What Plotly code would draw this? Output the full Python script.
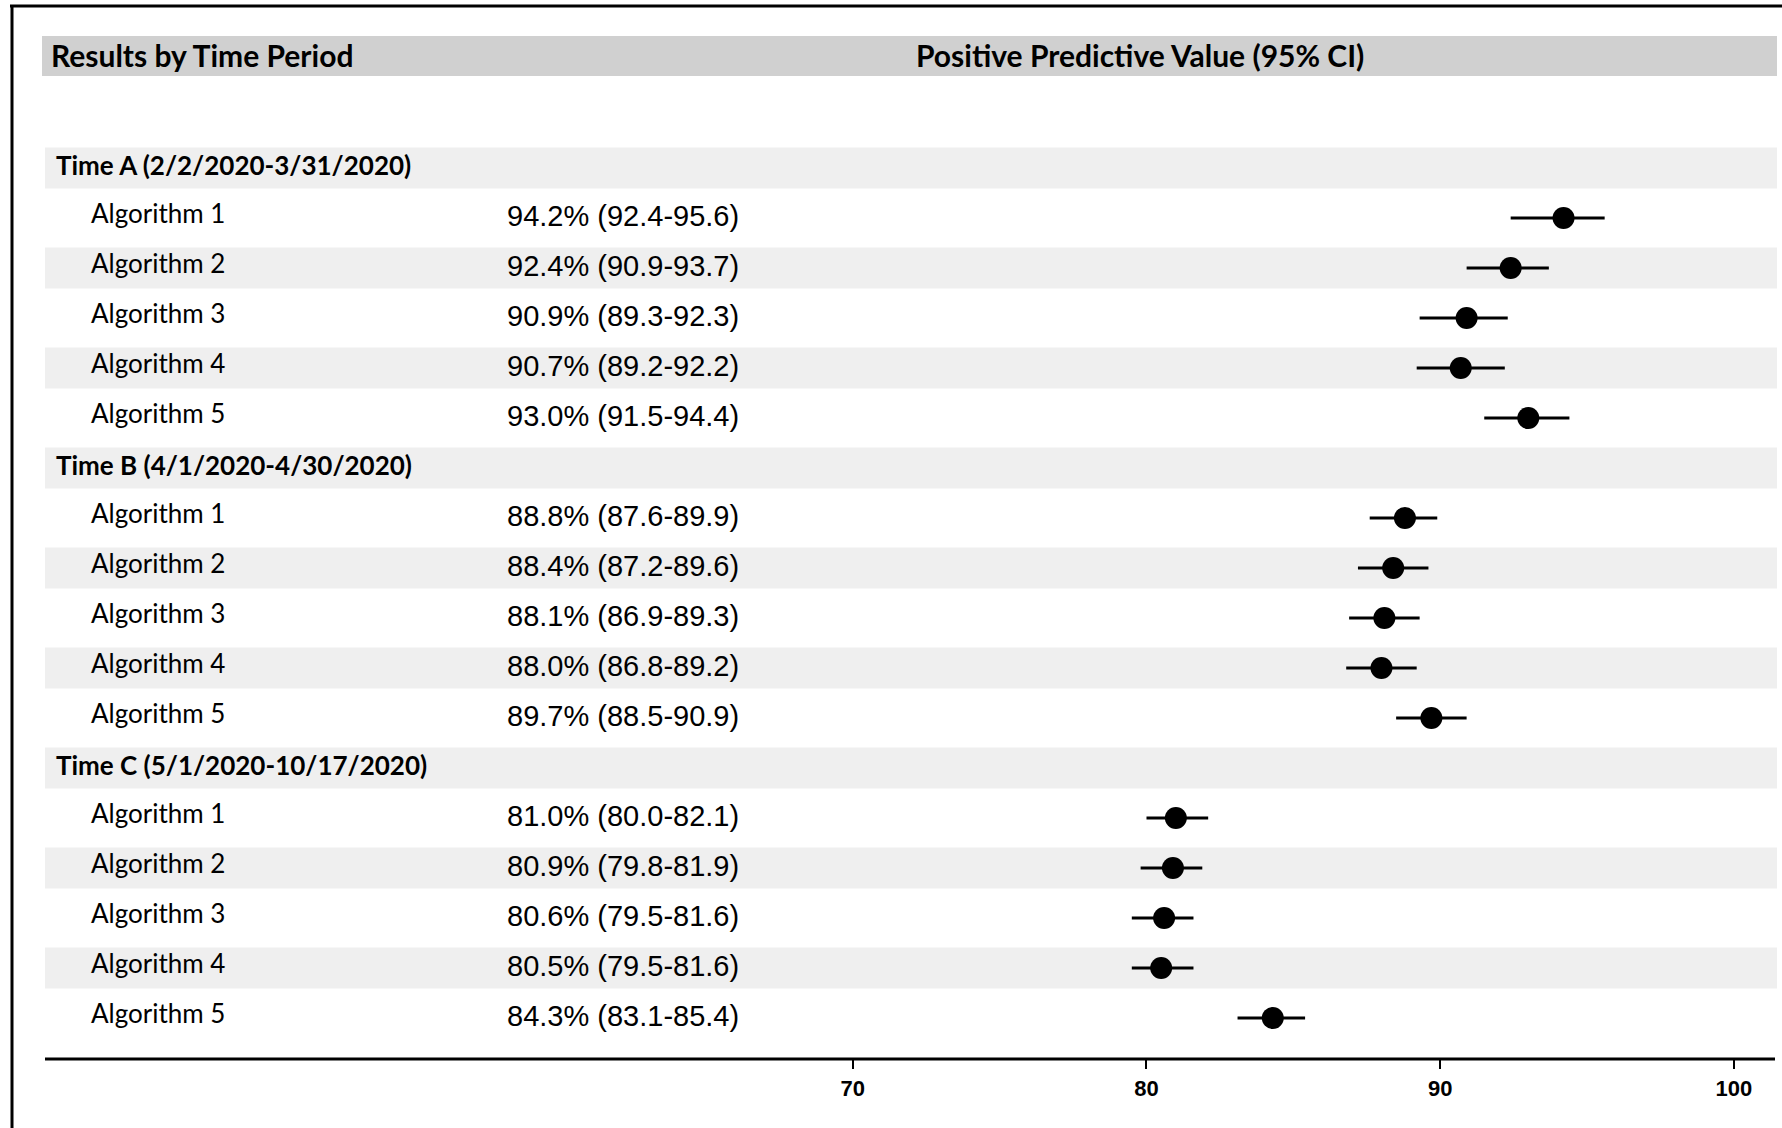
import plotly.graph_objects as go

# ---------------- data ----------------
periods = ["Time A (2/2/2020-3/31/2020)",
           "Time B (4/1/2020-4/30/2020)",
           "Time C (5/1/2020-10/17/2020)"]
algorithms = ["Algorithm 1", "Algorithm 2", "Algorithm 3", "Algorithm 4", "Algorithm 5"]

ppv_a = [94.2, 92.4, 90.9, 90.7, 93.0]
lo_a = [92.4, 90.9, 89.3, 89.2, 91.5]
hi_a = [95.6, 93.7, 92.3, 92.2, 94.4]

ppv_b = [88.8, 88.4, 88.1, 88.0, 89.7]
lo_b = [87.6, 87.2, 86.9, 86.8, 88.5]
hi_b = [89.9, 89.6, 89.3, 89.2, 90.9]

ppv_c = [81.0, 80.9, 80.6, 80.5, 84.3]
lo_c = [80.0, 79.8, 79.5, 79.5, 83.1]
hi_c = [82.1, 81.9, 81.6, 81.6, 85.4]

tick_vals = [70, 80, 90, 100]
header_left = "Results by Time Period"
header_right = "Positive Predictive Value (95% CI)"

# ---------------- layout constants ----------------
W, H = 1782, 1128
ROW0 = 168.0     # pixel centre of first row
PITCH = 50.0     # pixel pitch between rows
BAND_H = 0.41    # half band height in rows
X_LO, X_HI = 66.5, 101.4
CAL = "Lato, 'Open Sans', sans-serif"
ARI = "'Liberation Sans', Arial, sans-serif"


def px(x):
    return x / W


def py(y):
    return 1 - y / H


groups = [(periods[0], ppv_a, lo_a, hi_a),
          (periods[1], ppv_b, lo_b, hi_b),
          (periods[2], ppv_c, lo_c, hi_c)]

fig = go.Figure()
shapes = []
annotations = []

pts_y, pts_x, err_p, err_m = [], [], [], []
row = 0
for name, vals, lows, highs in groups:
    # group header row
    shapes.append(dict(type="rect", xref="paper", yref="y", x0=px(45), x1=px(1777),
                       y0=row - BAND_H, y1=row + BAND_H, fillcolor="#efefef",
                       line=dict(width=0), layer="below"))
    annotations.append(dict(text=name, xref="paper", yref="y", x=px(54), y=row,
                            xanchor="left", yanchor="middle", showarrow=False, yshift=3,
                            font=dict(family=CAL, size=26, color="black", weight="bold")))
    row += 1
    for i, (alg, v, lo, hi) in enumerate(zip(algorithms, vals, lows, highs)):
        if i % 2 == 1:
            shapes.append(dict(type="rect", xref="paper", yref="y", x0=px(45), x1=px(1777),
                               y0=row - BAND_H, y1=row + BAND_H, fillcolor="#efefef",
                               line=dict(width=0), layer="below"))
        annotations.append(dict(text=alg, xref="paper", yref="y", x=px(89), y=row,
                                xanchor="left", yanchor="middle", showarrow=False, yshift=5,
                                font=dict(family=CAL, size=26, color="black")))
        annotations.append(dict(text=f"{v:.1f}% ({lo:.1f}-{hi:.1f})", xref="paper", yref="y",
                                x=px(505), y=row, xanchor="left", yanchor="middle",
                                showarrow=False, yshift=2,
                                font=dict(family=ARI, size=29, color="black")))
        pts_y.append(row)
        pts_x.append(v)
        err_p.append(hi - v)
        err_m.append(v - lo)
        row += 1

fig.add_trace(go.Scatter(
    x=pts_x, y=pts_y, mode="markers",
    marker=dict(color="black", size=22),
    error_x=dict(type="data", array=err_p, arrayminus=err_m, symmetric=False,
                 color="black", thickness=3, width=0),
    showlegend=False, hoverinfo="x"))

# header band
shapes.append(dict(type="rect", xref="paper", yref="paper", x0=px(42), x1=px(1777),
                   y0=py(76), y1=py(36), fillcolor="#d0d0d0", line=dict(width=0), layer="below"))
annotations.append(dict(text=header_left, xref="paper", yref="paper", x=px(49), y=py(55),
                        xanchor="left", yanchor="middle", showarrow=False,
                        font=dict(family=CAL, size=30, color="black", weight="bold")))
annotations.append(dict(text=header_right, xref="paper", yref="paper", x=px(1140), y=py(55),
                        xanchor="center", yanchor="middle", showarrow=False,
                        font=dict(family=CAL, size=30, color="black", weight="bold")))

# bottom rule under table part + axis line
shapes.append(dict(type="line", xref="paper", yref="paper", x0=px(45), x1=px(1775),
                   y0=py(1059), y1=py(1059), line=dict(color="black", width=3)))
# outer frame (left and top)
shapes.append(dict(type="line", xref="paper", yref="paper", x0=px(12), x1=px(12),
                   y0=py(5), y1=0, line=dict(color="black", width=3)))
shapes.append(dict(type="line", xref="paper", yref="paper", x0=px(10), x1=1,
                   y0=py(6), y1=py(6), line=dict(color="black", width=3)))

fig.update_layout(
    width=W, height=H,
    margin=dict(l=0, r=0, t=0, b=0),
    paper_bgcolor="white", plot_bgcolor="rgba(0,0,0,0)",
    shapes=shapes, annotations=annotations,
    xaxis=dict(domain=[px(750), px(1775)], range=[X_LO, X_HI],
               anchor="free", position=py(1059),
               showgrid=False, zeroline=False, showline=False,
               ticks="outside", ticklen=9, tickwidth=2, tickcolor="black",
               tickvals=tick_vals, ticklabelstandoff=1,
               tickfont=dict(family=ARI, size=22, color="black", weight="bold")),
    yaxis=dict(domain=[0, 1], range=[(H - ROW0) / PITCH, -ROW0 / PITCH],
               visible=False, showgrid=False, zeroline=False),
)

fig.write_html("out.html", config={"displayModeBar": False},
               post_script="document.body.style.margin='0';document.body.style.overflow='hidden';")
